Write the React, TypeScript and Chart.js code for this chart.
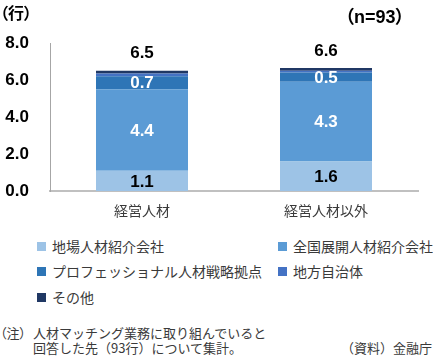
import React, { useEffect, useRef } from "react";
import { Chart, registerables } from "chart.js";

Chart.register(...registerables);

const categories = ["経営人材", "経営人材以外"];
const seriesNames = [
  "地場人材紹介会社",
  "全国展開人材紹介会社",
  "プロフェッショナル人材戦略拠点",
  "地方自治体",
  "その他",
];
const localAgency = [1.1, 1.6];
const nationalAgency = [4.4, 4.3];
const proBase = [0.7, 0.5];
const localGov = [0.15, 0.1];
const others = [0.15, 0.15];
const totals = [6.5, 6.6];
const yTicks = [0, 2, 4, 6, 8];

const seriesColors = ["#9DC3E6", "#5B9BD5", "#2E75B6", "#4472C4", "#203864"];
const labelColors = ["#000000", "#FFFFFF", "#FFFFFF", null, null];

const CJK = '"Noto Sans CJK JP", "Noto Sans", sans-serif';
const LATIN = '"Liberation Sans", Arial, "Noto Sans CJK JP", sans-serif';
const TEXT = "#3a3a3a";

const valueLabelPlugin = {
  id: "valueLabels",
  afterDatasetsDraw(chart: any) {
    const ctx = chart.ctx;
    ctx.save();
    ctx.font = 'bold 17px "Liberation Sans", Arial, sans-serif';
    ctx.textAlign = "center";
    ctx.textBaseline = "middle";
    chart.data.datasets.forEach((ds: any, i: number) => {
      const color = labelColors[i];
      if (!color) return;
      const meta = chart.getDatasetMeta(i);
      meta.data.forEach((bar: any, j: number) => {
        const p = bar.getProps(["x", "y", "base"], true);
        ctx.fillStyle = color;
        ctx.fillText(Number(ds.data[j]).toFixed(1), p.x, (p.y + p.base) / 2 + 1);
      });
    });
    const last = chart.getDatasetMeta(chart.data.datasets.length - 1);
    last.data.forEach((bar: any, j: number) => {
      const p = bar.getProps(["x", "y"], true);
      ctx.fillStyle = "#000000";
      ctx.fillText(totals[j].toFixed(1), p.x, p.y - 17);
    });
    ctx.restore();
  },
};

export default function App() {
  const canvasRef = useRef<HTMLCanvasElement | null>(null);

  useEffect(() => {
    document.body.style.margin = "0";
    const canvas = canvasRef.current;
    if (!canvas) return;
    const seriesData = [localAgency, nationalAgency, proBase, localGov, others];
    const chart = new Chart(canvas, {
      type: "bar",
      data: {
        labels: categories,
        datasets: seriesData.map((d, i) => ({
          label: seriesNames[i],
          data: d,
          backgroundColor: seriesColors[i],
          borderWidth: 0,
          barPercentage: 0.5,
          categoryPercentage: 1,
        })),
      },
      options: {
        responsive: false,
        animation: false,
        layout: { padding: { top: 43, right: 15, left: 0, bottom: 0 } },
        plugins: {
          legend: { display: false },
          tooltip: { enabled: false },
          title: { display: false },
        },
        scales: {
          x: {
            stacked: true,
            grid: { display: false, drawTicks: false },
            border: { display: true, color: "#c0c0c0", width: 2 },
            ticks: {
              color: TEXT,
              font: { family: CJK, size: 14 },
              padding: 11,
            },
            afterFit(scale: any) {
              scale.height = 39;
            },
          },
          y: {
            stacked: true,
            min: 0,
            max: 8,
            afterBuildTicks(scale: any) {
              scale.ticks = yTicks.map((v) => ({ value: v }));
            },
            grid: { display: false, drawTicks: false },
            border: { display: true, color: "#a6a6a6", width: 1 },
            ticks: {
              color: "#000000",
              font: { family: '"Liberation Sans", Arial, sans-serif', size: 17, weight: "bold" },
              padding: 21,
              callback: (v: any) => Number(v).toFixed(1),
            },
            afterFit(scale: any) {
              scale.width = 50;
            },
          },
        },
      },
      plugins: [valueLabelPlugin],
    });
    return () => chart.destroy();
  }, []);

  const legendRows = [
    { x: 37, y: 246, i: 0 },
    { x: 278, y: 246, i: 1 },
    { x: 37, y: 271, i: 2 },
    { x: 278, y: 271, i: 3 },
    { x: 37, y: 297, i: 4 },
  ];

  const abs = (left: number, top: number, extra: any = {}) => ({
    position: "absolute" as const,
    left,
    top,
    whiteSpace: "nowrap" as const,
    ...extra,
  });

  return (
    <div
      style={{
        position: "fixed",
        left: 0,
        top: 0,
        width: 433,
        height: 356,
        background: "#ffffff",
        overflow: "hidden",
        fontFamily: CJK,
      }}
    >
      <canvas
        ref={canvasRef}
        width={433}
        height={230}
        style={{ position: "absolute", left: 0, top: 0, width: 433, height: 230 }}
      />
      <div
        style={abs(0, 4, {
          fontSize: 16,
          lineHeight: "16px",
          fontWeight: "bold",
          color: "#000",
          fontFamily: CJK,
          fontFeatureSettings: '"palt"',
        })}
      >
        （行）
      </div>
      <div
        style={abs(345, 8, {
          fontSize: 18,
          lineHeight: "18px",
          fontWeight: "bold",
          color: "#000",
          fontFamily: LATIN,
          fontFeatureSettings: '"palt"',
        })}
      >
        （n=93）
      </div>
      {legendRows.map((r) => (
        <React.Fragment key={r.i}>
          <div
            style={abs(r.x, r.y - 4.5, {
              width: 9,
              height: 9,
              background: seriesColors[r.i],
            })}
          />
          <div
            style={abs(r.x + 15, r.y - 7, {
              fontSize: 14,
              lineHeight: "14px",
              color: TEXT,
            })}
          >
            {seriesNames[r.i]}
          </div>
        </React.Fragment>
      ))}
      <div
        style={abs(0, 326, {
          fontSize: 13,
          lineHeight: "13px",
          color: TEXT,
          fontFeatureSettings: '"palt"',
        })}
      >
        （注）
      </div>
      <div style={abs(33, 326, { fontSize: 13, lineHeight: "13px", color: TEXT })}>
        人材マッチング業務に取り組んでいると
      </div>
      <div style={abs(33, 341, { fontSize: 13, lineHeight: "13px", color: TEXT })}>
        回答した先（93行）について集計。
      </div>
      <div
        style={{
          position: "absolute",
          right: 1,
          top: 341,
          fontSize: 13,
          lineHeight: "13px",
          color: TEXT,
          whiteSpace: "nowrap",
        }}
      >
        （資料）金融庁
      </div>
    </div>
  );
}
